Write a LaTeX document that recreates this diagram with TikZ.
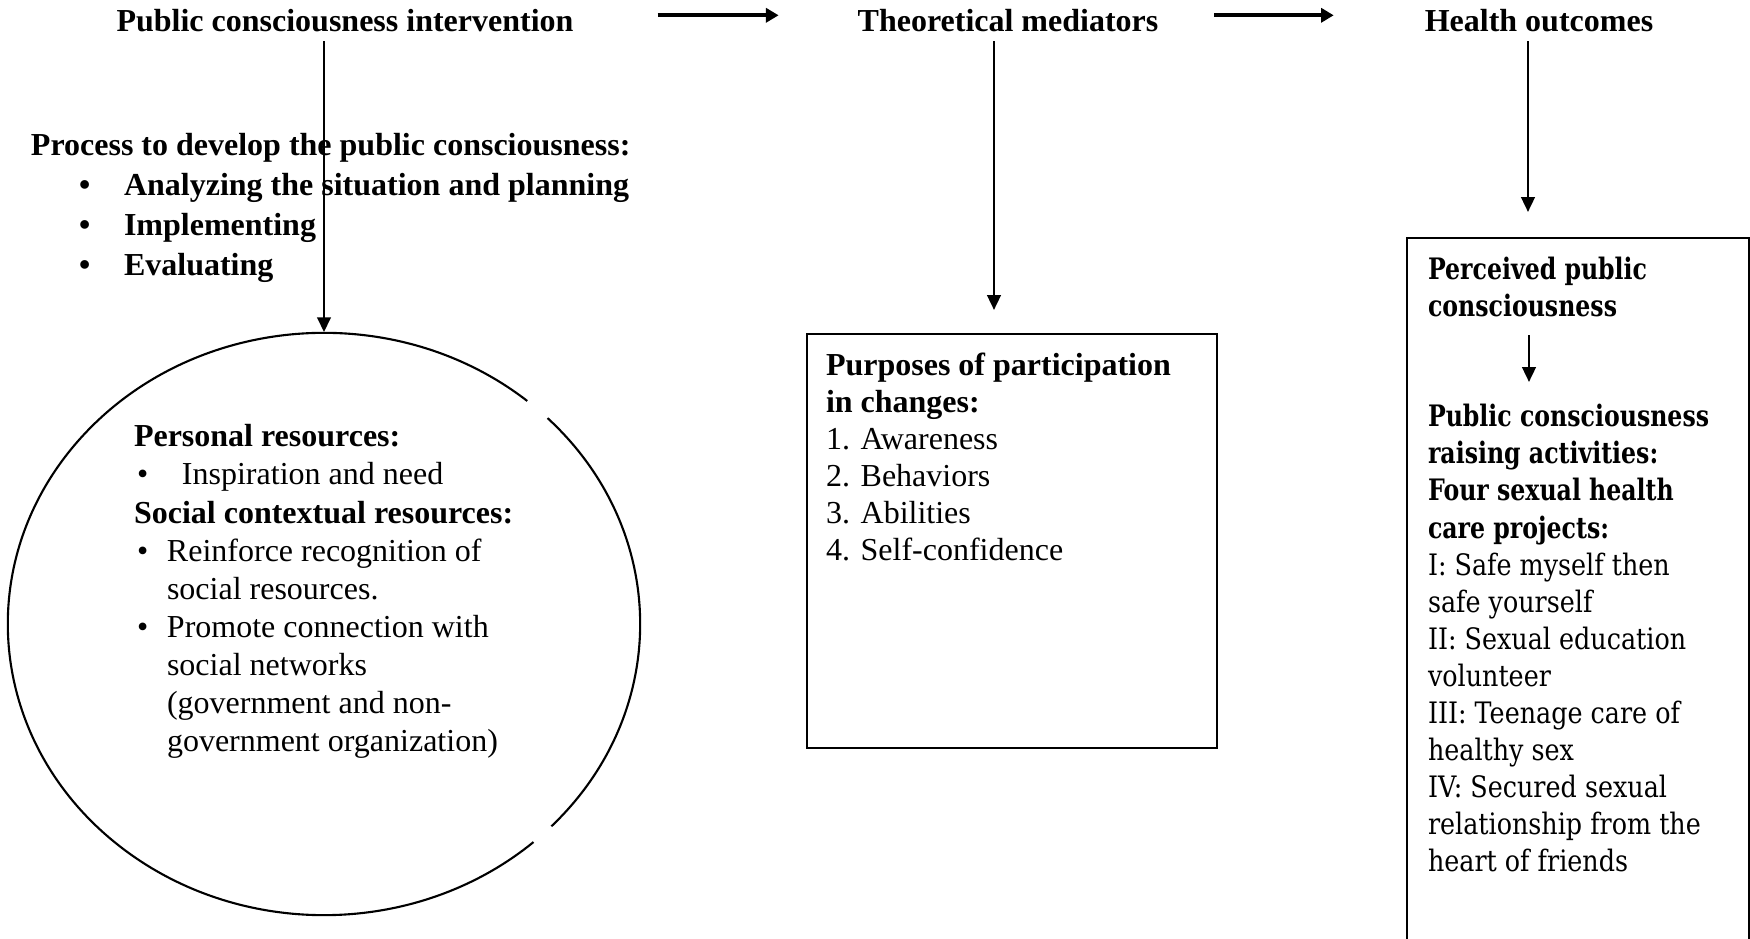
\documentclass[tikz,border=0pt]{standalone}
\usepackage{fontspec}
\setmainfont{Liberation Serif}
\newfontfamily\schfont[FakeStretch=0.86]{DejaVu Serif}
\newfontfamily\schfontbd[FakeStretch=0.80,UprightFont={* Bold}]{DejaVu Serif}
\usetikzlibrary{arrows.meta,shapes.geometric}
\begin{document}
\begin{tikzpicture}[x=0.01cm,y=-0.01cm,
  txt/.style={inner sep=0pt, outer sep=0pt, align=left, anchor=north west},
  head/.style={inner sep=0pt, outer sep=0pt, text depth=0pt, anchor=base, font=\fontsize{9.1}{10.5}\selectfont\bfseries},
  arr/.style={line width=0.75pt, -{Triangle[length=4.2pt,width=3.8pt]}},
  harr/.style={line width=1.1pt, -{Triangle[length=3.6pt,width=4pt]}},
  box/.style={draw, line width=0.6pt, inner sep=0pt, anchor=north west},
  circ/.style={line width=0.6pt}
]
\useasboundingbox (0,0) rectangle (1750,939);

% headings
\node[head] (pci) at (345,31) {Public consciousness intervention};
\node[head] (tm) at (1008,31) {Theoretical mediators};
\node[head] (ho) at (1539,31) {Health outcomes};

\draw[harr, shorten <=0.84cm, shorten >=0.79cm] ([yshift=0.046cm]pci.east) -- ([yshift=0.046cm]tm.west);
\draw[harr, shorten <=0.56cm, shorten >=0.91cm] ([yshift=0.046cm]tm.east) -- ([yshift=0.046cm]ho.west);

% process block
\node[txt, font=\fontsize{9.1}{11.3}\selectfont\bfseries] (proc) at (31,128) {\strut Process to develop the public consciousness:\\
\hspace*{0.48cm}\makebox[0.45cm][l]{\textbullet}Analyzing the situation and planning\\
\hspace*{0.48cm}\makebox[0.45cm][l]{\textbullet}Implementing\\
\hspace*{0.48cm}\makebox[0.45cm][l]{\textbullet}Evaluating};

% resources circle
\node[ellipse, minimum width=6.32cm, minimum height=5.82cm, inner sep=0pt] (res) at (324,624) {};
\draw[circ] ([shift={(50:3.16cm and 2.91cm)}]res.center) arc[start angle=50, end angle=311.5, x radius=3.16cm, y radius=2.91cm];
\draw[circ] ([shift={(-44:3.16cm and 2.91cm)}]res.center) arc[start angle=-44, end angle=45, x radius=3.16cm, y radius=2.91cm];

\node[txt, font=\fontsize{9.1}{10.85}\selectfont] (restxt) at (134,420) {\strut\textbf{Personal resources:}\\
\hspace*{0.03cm}\makebox[0.45cm][l]{\textbullet}Inspiration and need\\
\textbf{Social contextual resources:}\\
\hspace*{0.03cm}\makebox[0.30cm][l]{\textbullet}Reinforce recognition of\\
\hspace*{0.33cm}social resources.\\
\hspace*{0.03cm}\makebox[0.30cm][l]{\textbullet}Promote connection with\\
\hspace*{0.33cm}social networks\\
\hspace*{0.33cm}(government and non-\\
\hspace*{0.33cm}government organization)};

\draw[arr, shorten <=0.1cm] (pci.south -| res.north) -- (res.north);

% middle box
\node[box, minimum width=4.10cm, minimum height=4.14cm] (mbox) at (806,333) {};
\node[txt, font=\fontsize{9.1}{10.5}\selectfont] (mtxt) at (826,350) {\strut\textbf{Purposes of participation}\\
\textbf{in changes:}\\
1. Awareness\\
2. Behaviors\\
3. Abilities\\
4. Self-confidence};
\coordinate (tipM) at (994,310);
\draw[arr, shorten <=0.1cm] (tipM |- tm.south) -- (tipM);

% right box
\node[box, minimum width=3.42cm, minimum height=7.2cm] (rbox) at (1406,237) {};
\coordinate (tipR) at (1528,212);
\draw[arr, shorten <=0.1cm] (tipR |- ho.south) -- (tipR);

\node[txt, font=\schfont\fontsize{8.4}{10.53}\selectfont] (rb1) at (1428,254) {\strut{\schfontbd Perceived public}\\
{\schfontbd consciousness}};
\node[txt, font=\schfont\fontsize{8.4}{10.53}\selectfont] (rb2) at (1428,401) {\strut{\schfontbd Public consciousness}\\
{\schfontbd raising activities:}\\
{\schfontbd Four sexual health}\\
{\schfontbd care projects:}\\
I: Safe myself then\\
safe yourself\\
II: Sexual education\\
volunteer\\
III: Teenage care of\\
healthy sex\\
IV: Secured sexual\\
relationship from the\\
heart of friends};
\coordinate (tipS) at (1529,382);
\draw[arr, shorten <=0.18cm] (tipS |- rb1.south) -- (tipS);
\end{tikzpicture}
\end{document}
